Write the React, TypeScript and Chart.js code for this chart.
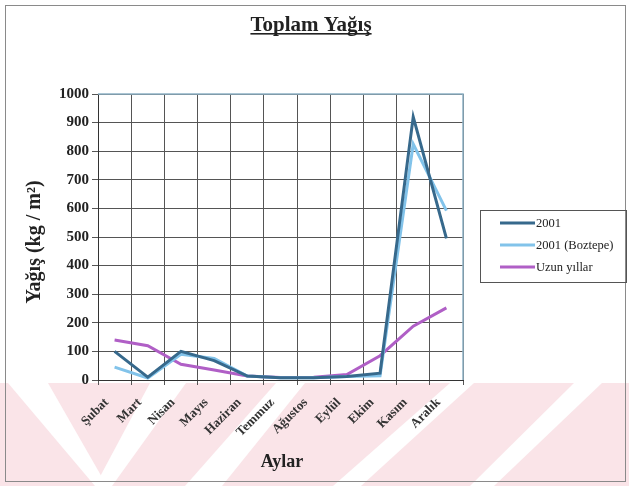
import React, { useEffect, useRef } from 'react';
import { Chart, registerables } from 'chart.js';

Chart.register(...registerables);

const MONTHS = ['Şubat', 'Mart', 'Nisan', 'Mayıs', 'Haziran', 'Temmuz', 'Ağustos', 'Eylül', 'Ekim', 'Kasım', 'Aralık'];
const RAIN_2001 = [100, 10, 100, 68, 14, 8, 8, 12, 24, 920, 495];
const RAIN_BOZTEPE = [45, 7, 90, 75, 14, 8, 8, 12, 15, 825, 592];
const RAIN_LONG_TERM = [140, 120, 55, 35, 14, 9, 10, 19, 85, 188, 252];
const SERIES_LABELS = ['2001', '2001 (Boztepe)', 'Uzun yıllar'];
const SERIES_COLORS = ['#37698c', '#82c3ea', '#b05fc6'];
const Y_MIN = 0;
const Y_MAX = 1000;
const Y_STEP = 100;
const TITLE = 'Toplam Yağış';
const Y_TITLE = 'Yağış (kg / m²)';
const X_TITLE = 'Aylar';

const SERIF = '"Liberation Serif", "Times New Roman", serif';
const W = 629;
const H = 486;

// scan watermark bands: [topLeft, topRight, bottomLeft, bottomRight]
const WM_BANDS = [
  [8, 48, 95, 107],
  [150, 186, 95, 112],
  [276, 305, 185, 222],
  [450, 474, 333, 361],
  [574, 602, 470, 494],
];

const decor = {
  id: 'decor',
  beforeDraw(chart: any) {
    const ctx = chart.ctx;
    ctx.save();
    ctx.fillStyle = '#ffffff';
    ctx.fillRect(0, 0, W, H);
    const top = 383, bot = 486;
    ctx.beginPath();
    ctx.rect(0, top, W, bot - top);
    ctx.clip();
    ctx.fillStyle = '#fae4e8';
    ctx.fillRect(0, top, W, bot - top);
    ctx.fillStyle = '#ffffff';
    WM_BANDS.forEach(([tl, tr, bl, br]) => {
      ctx.beginPath();
      ctx.moveTo(tl, top);
      ctx.lineTo(tr, top);
      ctx.lineTo(br, bot);
      ctx.lineTo(bl, bot);
      ctx.closePath();
      ctx.fill();
    });
    ctx.restore();

    ctx.save();
    ctx.strokeStyle = '#8a8a8a';
    ctx.lineWidth = 1;
    ctx.strokeRect(5.5, 5.5, 620, 476);
    ctx.restore();
  },
  afterDraw(chart: any) {
    const ctx = chart.ctx;
    const a = chart.chartArea;
    ctx.save();
    ctx.strokeStyle = '#8fb3c6';
    ctx.lineWidth = 1.5;
    ctx.beginPath();
    ctx.moveTo(a.left, a.top);
    ctx.lineTo(a.right, a.top);
    ctx.lineTo(a.right, a.bottom);
    ctx.stroke();

    // title
    ctx.fillStyle = '#222';
    ctx.font = `bold 21px ${SERIF}`;
    ctx.textAlign = 'center';
    ctx.textBaseline = 'alphabetic';
    const tx = 311, ty = 31;
    ctx.fillText(TITLE, tx, ty);
    const tw = ctx.measureText(TITLE).width;
    ctx.fillRect(tx - tw / 2, ty + 2, tw, 1.6);

    // y title
    ctx.save();
    ctx.translate(35, 242);
    ctx.rotate(-Math.PI / 2);
    ctx.font = `bold 20px ${SERIF}`;
    ctx.textAlign = 'center';
    ctx.textBaseline = 'middle';
    ctx.fillText(Y_TITLE, 0, 0);
    ctx.restore();

    // x title
    ctx.font = `bold 18px ${SERIF}`;
    ctx.textAlign = 'center';
    ctx.textBaseline = 'alphabetic';
    ctx.fillText(X_TITLE, 282, 467);

    // legend
    ctx.strokeStyle = '#555';
    ctx.lineWidth = 1;
    ctx.strokeRect(480.5, 210.5, 146, 72);
    chart.data.datasets.forEach((ds: any, i: number) => {
      const y = 223 + 22 * i;
      ctx.strokeStyle = ds.borderColor;
      ctx.lineWidth = 3;
      ctx.beginPath();
      ctx.moveTo(500, y);
      ctx.lineTo(535, y);
      ctx.stroke();
      ctx.fillStyle = '#222';
      ctx.font = `12.5px ${SERIF}`;
      ctx.textAlign = 'left';
      ctx.textBaseline = 'middle';
      ctx.fillText(ds.label, 536, y + 1);
    });
    ctx.restore();
  },
};

export default function App() {
  const ref = useRef<HTMLCanvasElement>(null);
  useEffect(() => {
    if (!ref.current) return;
    const seriesData = [RAIN_2001, RAIN_BOZTEPE, RAIN_LONG_TERM];
    const chart = new Chart(ref.current, {
      type: 'line',
      data: {
        labels: MONTHS,
        datasets: seriesData.map((d, i) => ({
          label: SERIES_LABELS[i],
          data: d,
          borderColor: SERIES_COLORS[i],
          backgroundColor: SERIES_COLORS[i],
          borderWidth: 3,
          pointRadius: 0,
          tension: 0,
          fill: false,
        })),
      },
      options: {
        responsive: false,
        animation: false,
        devicePixelRatio: 1,
        layout: { autoPadding: false, padding: { top: 94, left: 0, right: 166, bottom: 0 } },
        plugins: {
          legend: { display: false },
          title: { display: false },
          tooltip: { enabled: false },
        },
        scales: {
          x: {
            offset: true,
            afterFit: (s: any) => { s.height = 106; },
            grid: { offset: true, color: '#555', lineWidth: 1, tickLength: 5, drawOnChartArea: true },
            border: { color: '#333', width: 1 },
            ticks: {
              autoSkip: false,
              minRotation: 45,
              maxRotation: 45,
              color: '#333',
              padding: 10,
              labelOffset: -8,
              font: { family: SERIF, size: 13, weight: 'bold' },
            },
          },
          y: {
            min: Y_MIN,
            max: Y_MAX,
            afterFit: (s: any) => { s.width = 98; },
            grid: { color: '#555', lineWidth: 1, tickLength: 6 },
            border: { color: '#333', width: 1 },
            ticks: {
              stepSize: Y_STEP,
              color: '#222',
              padding: 3,
              font: { family: SERIF, size: 15, weight: 'bold' },
              callback: (v: any) => String(v),
            },
          },
        },
      },
      plugins: [decor],
    });
    return () => chart.destroy();
  }, []);
  return (
    <div style={{ position: 'absolute', left: 0, top: 0, width: W, height: H }}>
      <canvas ref={ref} width={W} height={H} style={{ display: 'block', width: W, height: H }} />
    </div>
  );
}
